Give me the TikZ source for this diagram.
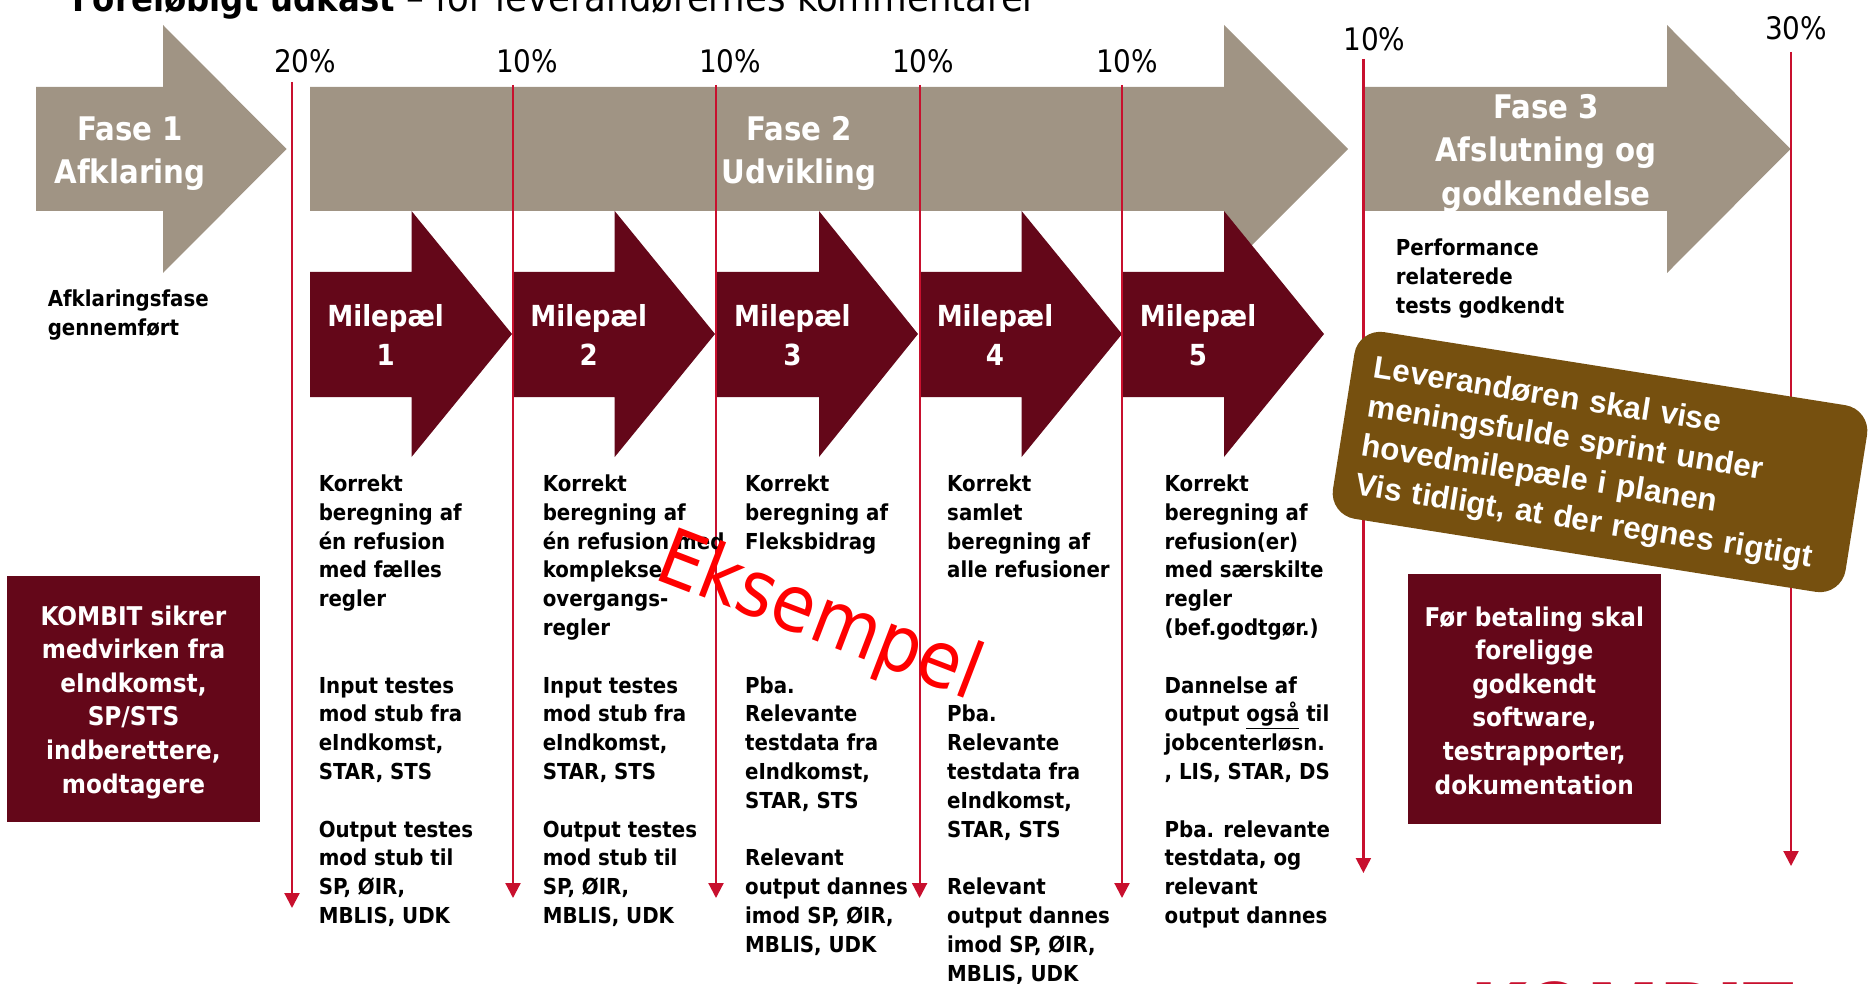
\documentclass[tikz,border=0pt]{standalone}
\usepackage{fontspec}
\setmainfont{DejaVu Sans Condensed}
\newfontfamily\arialfont{Liberation Sans}
\usetikzlibrary{arrows.meta}
\definecolor{fasegray}{HTML}{A09484}
\definecolor{milered}{HTML}{640719}
\definecolor{linered}{HTML}{C8102E}
\definecolor{boxbrown}{HTML}{76500F}
\newcommand{\sz}[2]{\fontsize{#1}{#2}\selectfont}
\tikzset{
  fasetxt/.style={text=white, align=center, inner sep=0, font=\sz{32.5}{43.5}\bfseries},
  miletxt/.style={text=white, align=center, inner sep=0, font=\sz{29}{39}\bfseries},
  coltxt/.style={align=left, anchor=north west, inner sep=0, font=\sz{22}{28.8}\bfseries},
  pcttxt/.style={inner sep=0, font=\sz{31}{40}},
  sidebox/.style={fill=milered, minimum width=253, minimum height=246},
  sidetxt/.style={text=white, align=center, inner sep=0, font=\sz{25.8}{33.6}\bfseries},
  pctline/.style={linered, line width=2.2pt, -{Triangle[length=15pt,width=15pt]}},
}
% phase and milestone arrow: left, head base, tip, shaft top/bottom, head top/bottom
\newcommand{\blockarrow}[8]{
  \fill[#1] (#2,#5) -- (#3,#5) -- (#3,#7) -- (#4,#8) -- (#3,2*#8-#7) -- (#3,#6) -- (#2,#6) -- cycle;
}
\begin{document}
\begin{tikzpicture}[x=1pt, y=-1pt]
  \useasboundingbox (0,0) rectangle (1868,984);

  % title, cut off by the page
  \node[anchor=base west, inner sep=0, font=\sz{39.5}{40}] (title) at (72,12)
    {{\sz{36}{40}\bfseries Foreløbigt udkast} -- for leverandørernes kommentarer};
  \node[anchor=north west, inner sep=0, text=linered, font=\sz{82}{86}\bfseries] (logo) at (1470,981) {KOMBIT};

  % phases
  \blockarrow{fasegray}{36}{163}{286.5}{87}{211}{25}{149}
  \blockarrow{fasegray}{310}{1224}{1348}{87}{211}{25}{149}
  \blockarrow{fasegray}{1365}{1667}{1790.5}{87}{211}{25}{149}

  % milestones
  \foreach \l/\b/\t in {310/411.5/512, 513.5/614.7/715, 717/819/918, 920/1021.6/1122, 1123/1224/1324} {
    \blockarrow{milered}{\l}{\b}{\t}{272}{397}{211}{334}
  }

  % payment lines
  \foreach \n/\x/\y/\e/\p/\q/\r in {a/292/82/908/305/61/20, b/513/85/898/527/61/10, c/716/85/898/730/61/10,
      d/919.6/85/898/923/61/10, e/1122/85/898/1127/61/10, f/1363.4/59/873/1374.4/39/10, g/1791/52/866/1796/28/30} {
    \coordinate (top\n) at (\x,\y);
    \coordinate (end\n) at (\x,\e);
    \draw[pctline] (top\n) -- (end\n);
    \node[pcttxt] (pct\n) at (\p,\q) {\r\%};
  }

  \node[fasetxt] (fase1) at (130,153.5) {Fase 1\\Afklaring};
  \node[fasetxt] (fase2) at (799,153.5) {Fase 2\\Udvikling};
  \node[fasetxt] (fase3) at (1546,153) {Fase 3\\Afslutning og\\godkendelse};

  \foreach \x/\m in {385.6/1, 588.7/2, 792.4/3, 995/4, 1198/5}
    \node[miletxt] (mile\m) at (\x,335) {Milepæl\\\m};

  \node[coltxt] (afkl) at (47.6,289.5) {Afklaringsfase\\gennemført};
  \node[coltxt] (perf) at (1395.6,238.5) {Performance\\relaterede\\tests godkendt};

  \node[coltxt] (col1) at (318.6,474.5) {Korrekt\\beregning af\\én refusion\\med fælles\\regler\\[57.6pt]
    Input testes\\mod stub fra\\eIndkomst,\\STAR, STS\\[28.8pt]
    Output testes\\mod stub til\\SP, ØIR,\\MBLIS, UDK};
  \node[coltxt] (col2) at (542.6,474.5) {Korrekt\\beregning af\\én refusion med\\komplekse\\overgangs-\\regler\\[28.8pt]
    Input testes\\mod stub fra\\eIndkomst,\\STAR, STS\\[28.8pt]
    Output testes\\mod stub til\\SP, ØIR,\\MBLIS, UDK};
  \node[coltxt] (col3) at (745,474.5) {Korrekt\\beregning af\\Fleksbidrag\\[115.2pt]
    Pba.\\Relevante\\testdata fra\\eIndkomst,\\STAR, STS\\[28.8pt]
    Relevant\\output dannes\\imod SP, ØIR,\\MBLIS, UDK};
  \node[coltxt] (col4) at (947,474.5) {Korrekt\\samlet\\beregning af\\alle refusioner\\[115.2pt]
    Pba.\\Relevante\\testdata fra\\eIndkomst,\\STAR, STS\\[28.8pt]
    Relevant\\output dannes\\imod SP, ØIR,\\MBLIS, UDK};
  \node[coltxt] (col5) at (1164.5,474.5) {Korrekt\\beregning af\\refusion(er)\\med særskilte\\regler\\(bef.godtgør.)\\[28.8pt]
    Dannelse af\\output \underline{også} til\\jobcenterløsn.\\, LIS, STAR, DS\\[28.8pt]
    Pba. relevante\\testdata, og\\relevant\\output dannes};

  \node[sidebox] (kombit) at (133.5,698.5) {};
  \node[sidetxt] (kombittxt) at (133.5,702) {KOMBIT sikrer\\medvirken fra\\eIndkomst,\\SP/STS\\indberettere,\\modtagere};
  \node[sidebox, minimum height=250] (betal) at (1534.3,699) {};
  \node[sidetxt] (betaltxt) at (1534.3,700.5) {Før betaling skal\\foreligge\\godkendt\\software,\\testrapporter,\\dokumentation};

  \node[fill=boxbrown, rounded corners=26pt, rotate=-9, minimum width=519, minimum height=189] (note) at (1600,462) {};
  \node[rotate=-9, text width=478, align=left, inner sep=0, text=white, font=\arialfont\sz{31.4}{39.5}\bfseries] (notetxt)
    at (1601,465.5) {Leverandøren skal vise\\meningsfulde sprint under\\hovedmilepæle i planen\\Vis tidligt, at der regnes rigtigt};

  \node[rotate=-21, inner sep=0, text=red, font=\sz{78}{80}] (eks) at (819,619) {Eksempel};
\end{tikzpicture}
\end{document}
